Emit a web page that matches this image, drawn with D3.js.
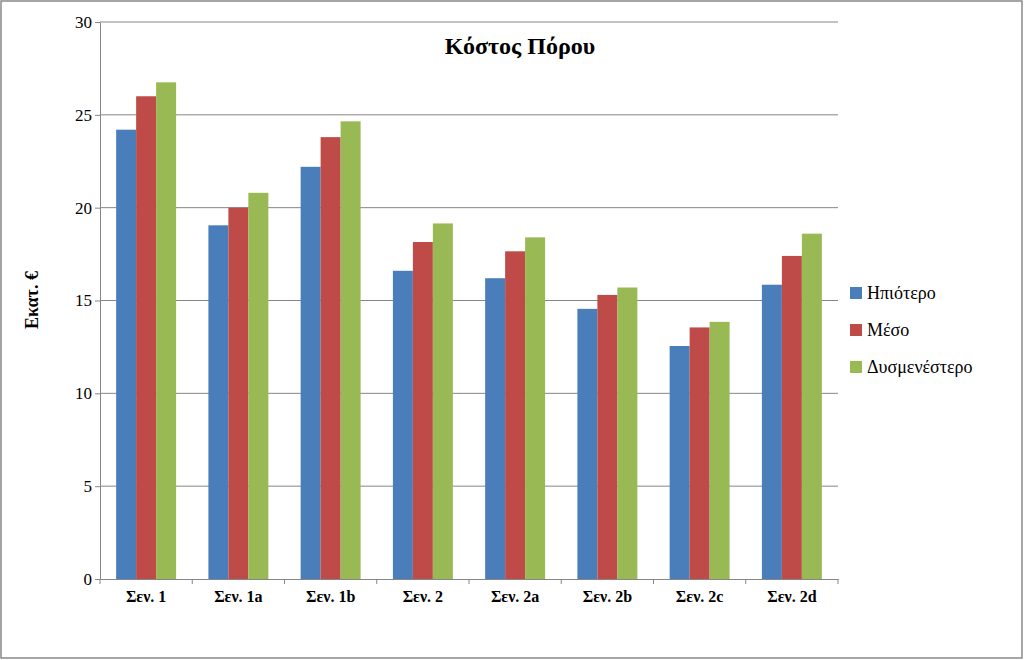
<!DOCTYPE html>
<html><head><meta charset="utf-8">
<script src="https://cdn.jsdelivr.net/npm/d3@7"></script>
<style>body{margin:0;background:#fff}svg{display:block}</style></head>
<body><svg width="1024" height="660"></svg>
<script>
const categories=["Σεν. 1","Σεν. 1a","Σεν. 1b","Σεν. 2","Σεν. 2a","Σεν. 2b","Σεν. 2c","Σεν. 2d"];
const seriesNames=["Ηπιότερο","Μέσο","Δυσμενέστερο"];
const best=[24.2,19.05,22.2,16.6,16.2,14.55,12.55,15.85];
const mid=[26.0,20.0,23.8,18.15,17.65,15.3,13.55,17.4];
const worst=[26.75,20.8,24.65,19.15,18.4,15.7,13.85,18.6];
const yTicks=[0,5,10,15,20,25,30];
const colors=["#4a7ebb","#be4b48","#98b954"];
const values=[best,mid,worst];
const svg=d3.select("svg");
const font="Liberation Serif, Times New Roman, serif";
svg.append("rect").attr("x",1).attr("y",1).attr("width",1021).attr("height",657).attr("fill","#fff").attr("stroke","#888").attr("stroke-width",1.5);
const L=100,R=838,T=22,B=579;
const y=d3.scaleLinear().domain([0,30]).range([B,T]);
const x=d3.scaleBand().domain(categories).range([L,R]).paddingInner(0.35).paddingOuter(0.175);
const xs=d3.scaleBand().domain(d3.range(3)).range([0,x.bandwidth()]);
svg.append("g").selectAll("line").data(yTicks.slice(1)).join("line")
 .attr("x1",L).attr("x2",R).attr("y1",d=>y(d)).attr("y2",d=>y(d)).attr("stroke","#868686");
const g=svg.append("g");
values.forEach((vals,si)=>{
 g.selectAll(".b"+si).data(vals).join("rect")
  .attr("x",(d,i)=>x(categories[i])+xs(si)).attr("width",xs.bandwidth())
  .attr("y",d=>y(d)).attr("height",d=>B-y(d)).attr("fill",colors[si]);
});
const ya=svg.append("g").attr("transform",`translate(${L},0)`).call(d3.axisLeft(y).tickValues(yTicks).tickSize(5).tickSizeOuter(0));
ya.selectAll("text").attr("font-family",font).attr("font-size",17).attr("fill","#000");
ya.selectAll("line,path").attr("stroke","#868686");
const xa=svg.append("g").attr("transform",`translate(0,${B})`).call(d3.axisBottom(x).tickSize(0).tickSizeOuter(0).tickPadding(12));
xa.selectAll("text").attr("font-family",font).attr("font-size",16).attr("font-weight","bold").attr("fill","#000");
xa.select("path").attr("stroke","#868686");
xa.selectAll(".tick").append("line").attr("y2",5).attr("stroke","#868686").attr("transform",`translate(${-x.step()/2},0)`);
svg.append("line").attr("x1",R).attr("x2",R).attr("y1",B).attr("y2",B+5).attr("stroke","#868686");
svg.append("text").attr("x",520).attr("y",54).attr("text-anchor","middle").attr("font-family",font).attr("font-size",24).attr("font-weight","bold").text("Κόστος Πόρου");
svg.append("text").attr("transform","translate(38,300) rotate(-90)").attr("text-anchor","middle").attr("font-family",font).attr("font-size",18).attr("font-weight","bold").text("Εκατ. €");
const lg=svg.append("g");
seriesNames.forEach((n,i)=>{
 const yy=293+i*37;
 lg.append("rect").attr("x",850).attr("y",yy-6).attr("width",12).attr("height",12).attr("fill",colors[i]);
 lg.append("text").attr("x",867).attr("y",yy+6).attr("font-family",font).attr("font-size",18).text(n);
});
</script></body></html>
